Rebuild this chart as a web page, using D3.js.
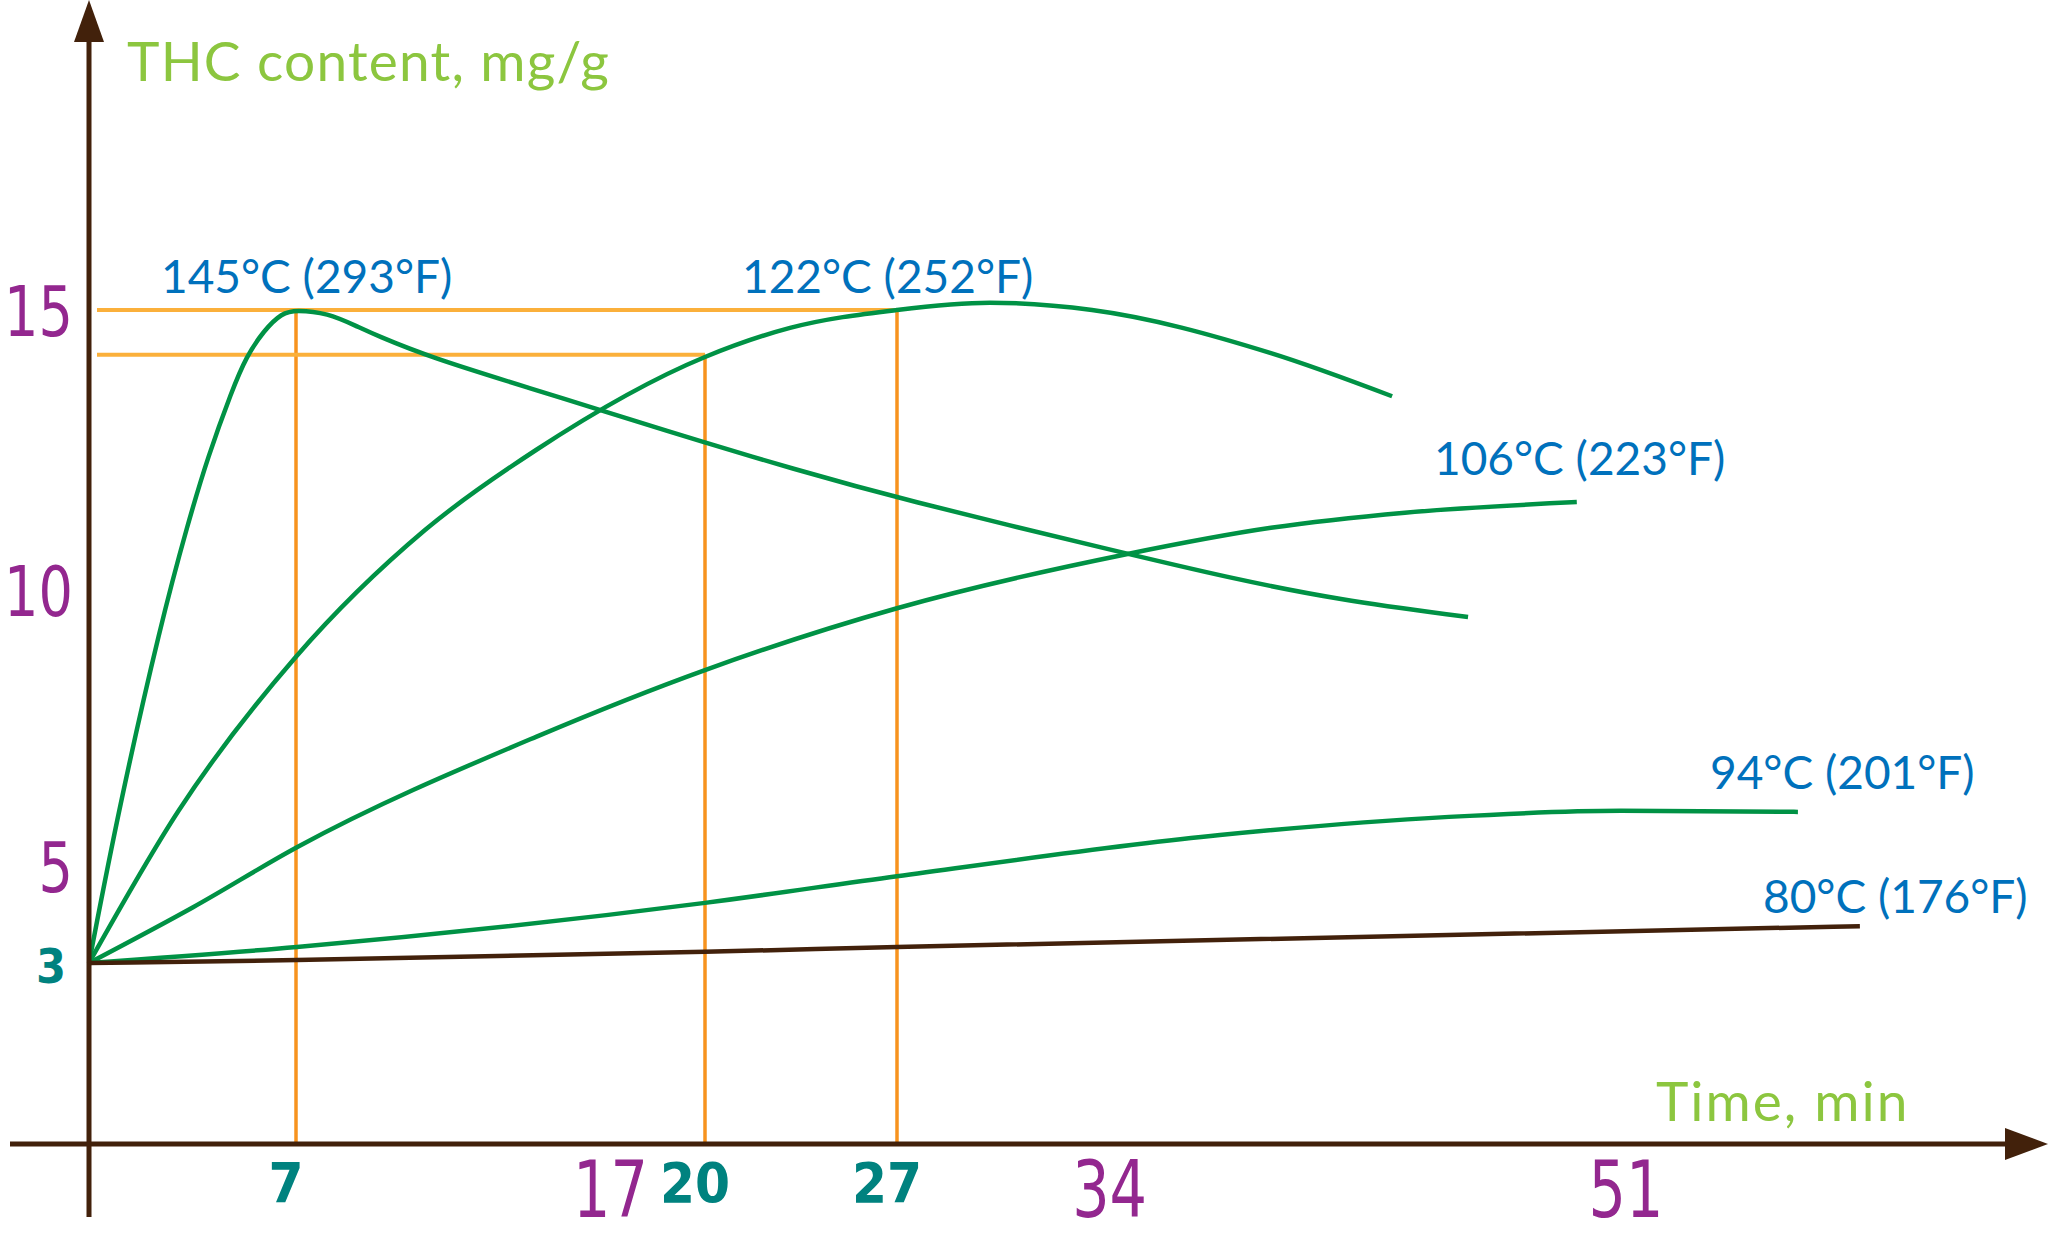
<!DOCTYPE html>
<html>
<head>
<meta charset="utf-8">
<script src="https://cdn.jsdelivr.net/npm/d3@7"></script>
<style>
  html, body { margin: 0; padding: 0; background: #fff; }
  svg { display: block; }
</style>
</head>
<body>
<svg id="chart" width="2048" height="1235"></svg>
<script>
// series (time in min, THC in mg/g)
var seriesNames = ["145°C (293°F)", "122°C (252°F)", "106°C (223°F)", "94°C (201°F)", "80°C (176°F)"];

var s145 = [[0,3],[1.01,6.05],[2.43,9.4],[3.35,11.2],[4.02,12.38],[4.84,13.57],[5.31,14.16],[5.92,14.64],[6.53,14.95],[7,15],[7.99,14.95],[8.97,14.7],[9.54,14.55],[11.23,14.16],[14.63,13.57],[16.47,13.25],[20,12.63],[23.1,12.18],[27,11.64],[34.47,10.66],[37.83,10.23],[41.52,9.82],[45.8,9.51]];
var s122 = [[0,3],[3.04,6.01],[7,8.79],[11.1,11.07],[14.63,12.5],[20,14.16],[23.1,14.68],[27,15],[30.06,15.13],[33.42,15],[39.31,14.23],[43.3,13.46]];
var s106 = [[0,3],[3.52,4.15],[7.03,5.34],[14.63,7.34],[20,8.55],[27,9.67],[34.47,10.63],[39.31,11.11],[43.72,11.38],[49.38,11.57]];
var s94 = [[0,3],[7.03,3.33],[20,4.24],[27,4.79],[37.63,5.56],[45.17,5.89],[50.83,6],[56.66,5.98]];
var s80 = [[0,3],[7.03,3.06],[20,3.23],[27,3.33],[58.7,3.76]];

// guide lines: [time, content]
var guides = [[7,15],[20,14.2],[27,15]];

var tealTicks = [7, 20, 27];
var purpleTicks = [17, 34, 51];
var yTicks = [5, 10, 15];
var yStart = 3;

var svg = d3.select("#chart");

// hand drawn axes are a bit uneven, so piecewise scales
var x = d3.scaleLinear().domain([0, 7, 20, 27, 51]).range([89, 296, 705, 897, 1626]);
var y = d3.scaleLinear().domain([0, 3, 5, 10, 15]).range([1144, 963, 866, 590, 310]);

var brown = "#42210b",
    green = "#009245",
    blue = "#0071bc",
    purple = "#93278f",
    teal = "#00827f";

var x0 = x(0), yAxis = y(0);

// orange guides
guides.forEach(function(d) {
  svg.append("line")
    .attr("x1", x0 + 8).attr("x2", x(d[0]))
    .attr("y1", y(d[1])).attr("y2", y(d[1]))
    .attr("stroke", "#fbb03b").attr("stroke-width", 4);
  svg.append("line")
    .attr("x1", x(d[0])).attr("x2", x(d[0]))
    .attr("y1", y(d[1])).attr("y2", yAxis)
    .attr("stroke", "#f7931e").attr("stroke-width", 3.5);
});

function lineWith(curve) {
  return d3.line()
    .x(function(d) { return x(d[0]); })
    .y(function(d) { return y(d[1]); })
    .curve(curve);
}
var sharp = lineWith(d3.curveBasis),     // 145 has a quick peak, dense points
    smooth = lineWith(d3.curveMonotoneX);

svg.append("path").attr("d", sharp(s145))
  .attr("fill", "none").attr("stroke", green).attr("stroke-width", 4.5);

[s122, s106, s94].forEach(function(s) {
  svg.append("path")
    .attr("d", smooth(s))
    .attr("fill", "none")
    .attr("stroke", green)
    .attr("stroke-width", 4.5);
});
svg.append("path")
  .attr("d", smooth(s80))
  .attr("fill", "none")
  .attr("stroke", brown)
  .attr("stroke-width", 4.5);

// axes
svg.append("line")
  .attr("x1", x0).attr("x2", x0)
  .attr("y1", 40).attr("y2", 1217)
  .attr("stroke", brown).attr("stroke-width", 5);
svg.append("path")
  .attr("d", "M" + x0 + ",0L" + (x0 + 15) + ",42L" + (x0 - 15) + ",42Z")
  .attr("fill", brown);
svg.append("line")
  .attr("x1", 10).attr("x2", 2008)
  .attr("y1", yAxis).attr("y2", yAxis)
  .attr("stroke", brown).attr("stroke-width", 5);
svg.append("path")
  .attr("d", "M2048," + yAxis + "L2005," + (yAxis - 16) + "L2005," + (yAxis + 16) + "Z")
  .attr("fill", brown);

// axis titles
svg.append("text")
  .attr("x", 127).attr("y", 81)
  .attr("fill", "#8cc63f")
  .style("font-family", "Lato, 'Open Sans', sans-serif")
  .style("font-size", "55px")
  .style("letter-spacing", "1.2px")
  .text("THC content, mg/g");

svg.append("text")
  .attr("x", 1656).attr("y", 1121)
  .attr("fill", "#8cc63f")
  .style("font-family", "Lato, 'Open Sans', sans-serif")
  .style("font-size", "55px")
  .style("letter-spacing", "2px")
  .text("Time, min");

// tick labels
var narrow = "'Liberation Sans Narrow', 'DejaVu Sans Condensed', sans-serif";

svg.selectAll(".tt").data(tealTicks).enter().append("text")
  .attr("x", function(d) { return x(d) - 10; })
  .attr("y", 1202)
  .attr("text-anchor", "middle")
  .attr("fill", teal)
  .style("font-family", narrow)
  .style("font-weight", "bold")
  .style("font-size", "56px")
  .text(function(d) { return d; });

svg.selectAll(".pt").data(purpleTicks).enter().append("text")
  .attr("transform", function(d) { return "translate(" + x(d) + ",1217) scale(0.84,1)"; })
  .attr("text-anchor", "middle")
  .attr("fill", purple)
  .style("font-family", narrow)
  .style("font-size", "78px")
  .text(function(d) { return d; });

svg.selectAll(".yt").data(yTicks).enter().append("text")
  .attr("transform", function(d) { return "translate(73," + (y(d) + 26) + ") scale(0.86,1)"; })
  .attr("text-anchor", "end")
  .attr("fill", purple)
  .style("font-family", narrow)
  .style("font-size", "70px")
  .text(function(d) { return d; });

svg.append("text")
  .attr("x", 51).attr("y", y(yStart) + 20)
  .attr("text-anchor", "middle")
  .attr("fill", teal)
  .style("font-family", narrow)
  .style("font-weight", "bold")
  .style("font-size", "48px")
  .text(yStart);

// series labels
var labelAt = [[161, 293], [742, 293], [1434, 475], [1710, 789], [1763, 913]];
svg.selectAll(".sl").data(seriesNames).enter().append("text")
  .attr("x", function(d, i) { return labelAt[i][0]; })
  .attr("y", function(d, i) { return labelAt[i][1]; })
  .attr("fill", blue)
  .style("font-family", "Lato, 'Open Sans', sans-serif")
  .style("font-size", "46px")
  .text(function(d) { return d; });
</script>
</body>
</html>
